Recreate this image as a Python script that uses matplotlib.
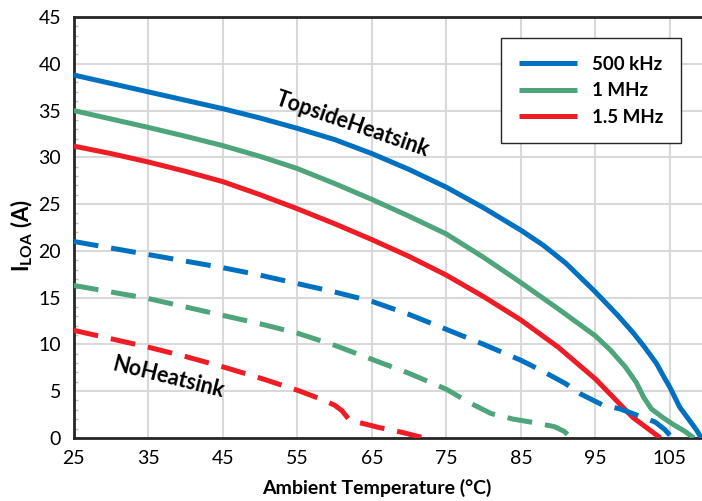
import matplotlib
matplotlib.use("Agg")
import matplotlib.pyplot as plt
import numpy as np

# --- data ---
# topside heatsink (solid)
t_500k = [25, 30, 35, 40, 45, 50, 55, 60, 65, 70, 75, 80, 85, 88, 91, 95, 98, 100, 101.5, 103.2, 104.2, 105, 106.3, 107.5, 108.6, 109.2]
i_500k = [38.8, 37.9, 37.0, 36.1, 35.2, 34.2, 33.1, 31.9, 30.4, 28.7, 26.8, 24.6, 22.2, 20.6, 18.7, 15.6, 13.1, 11.3, 9.8, 7.95, 6.5, 5.4, 3.3, 2.0, 0.8, 0.0]

t_1m = [25, 30, 35, 40, 45, 50, 55, 60, 65, 70, 75, 80, 85, 90, 95, 97, 99, 100.5, 101.5, 102.5, 104, 105.5, 107, 108.2]
i_1m = [35.0, 34.1, 33.2, 32.25, 31.25, 30.1, 28.8, 27.2, 25.5, 23.7, 21.8, 19.3, 16.6, 13.8, 10.9, 9.4, 7.6, 5.9, 4.3, 3.1, 2.2, 1.4, 0.7, 0.0]

t_15m = [25, 30, 35, 40, 45, 50, 55, 60, 65, 70, 75, 80, 85, 90, 95, 100, 103.7]
i_15m = [31.2, 30.4, 29.5, 28.5, 27.4, 26.0, 24.5, 22.9, 21.2, 19.4, 17.4, 15.1, 12.6, 9.7, 6.3, 2.2, 0.0]

# no heatsink (dashed)
t_500k_nh = [25, 30, 35, 40, 45, 50, 55, 60, 65, 70, 75, 80, 85, 88, 91, 93, 96, 98.3, 101, 103, 104.3, 105.3]
i_500k_nh = [21.0, 20.3, 19.6, 18.9, 18.2, 17.4, 16.5, 15.6, 14.6, 13.2, 11.6, 10.0, 8.3, 7.1, 5.8, 4.7, 3.5, 3.1, 2.3, 1.7, 0.9, 0.0]

t_1m_nh = [25, 30, 35, 40, 45, 50, 55, 60, 65, 70, 75, 78, 81, 84, 87, 89.5, 90.8, 91.8]
i_1m_nh = [16.3, 15.6, 14.9, 14.0, 13.1, 12.2, 11.2, 9.9, 8.4, 6.9, 5.2, 3.8, 2.6, 2.0, 1.6, 1.2, 0.7, 0.0]

t_15m_nh = [25, 30, 35, 40, 45, 50, 55, 58, 60, 61, 61.6, 62, 63.5, 66, 69, 72]
i_15m_nh = [11.5, 10.6, 9.7, 8.7, 7.6, 6.4, 5.1, 4.2, 3.5, 2.9, 2.3, 1.9, 1.6, 1.1, 0.6, 0.0]

labels = ['500 kHz', '1 MHz', '1.5 MHz']
colors = ['#0070c0', '#4ea47b', '#ee1c25']

xticks = [25, 35, 45, 55, 65, 75, 85, 95, 105]
yticks = [0, 5, 10, 15, 20, 25, 30, 35, 40, 45]

plt.rcParams['font.family'] = ['Lato', 'DejaVu Sans']
plt.rcParams['mathtext.fontset'] = 'custom'
plt.rcParams['mathtext.rm'] = 'Lato'
plt.rcParams['mathtext.bf'] = 'Lato:bold'

fig = plt.figure(figsize=(7.02, 5.01), dpi=100)
ax = fig.add_axes([0.105, 0.126, 0.895, 0.84])

lw = 3.6
solid = [(t_500k, i_500k), (t_1m, i_1m), (t_15m, i_15m)]
dashed = [(t_500k_nh, i_500k_nh), (t_1m_nh, i_1m_nh), (t_15m_nh, i_15m_nh)]
for (t, i), c, lab in zip(solid, colors, labels):
	ax.plot(t, i, '-', color=c, lw=lw, label=lab, solid_capstyle='butt', solid_joinstyle='round', zorder=3)
for (t, i), c in zip(dashed, colors):
	ax.plot(t, i, '--', color=c, lw=lw, dashes=(5, 2.6), dash_capstyle='butt', zorder=3)

ax.set_xlim(25, 109.3)
ax.set_ylim(0, 45)
ax.set_xticks(xticks)
ax.set_yticks(yticks)
ax.set_yticks(np.arange(0, 46, 1), minor=True)
ax.grid(True, which='major', color='#d9d9d9', lw=1.5, zorder=0)
ax.set_axisbelow(True)

ax.tick_params(axis='both', which='major', length=0, labelsize=14)
ax.tick_params(axis='x', pad=9)
ax.tick_params(axis='y', pad=9)
ax.tick_params(axis='y', which='minor', direction='in', length=3, color='#bfbfbf', width=1)
ax.tick_params(axis='x', which='minor', length=0)

for s in ['left', 'bottom', 'top']:
	ax.spines[s].set_color('#262626')
	ax.spines[s].set_linewidth(2)
ax.spines['right'].set_visible(False)

ax.set_xlabel('Ambient Temperature (°C)', fontsize=14, fontweight='bold')
ax.xaxis.set_label_coords(0.482, -0.097)
ax.set_ylabel(r'$\mathbf{I_{LOA}}$ (A)', fontsize=16, fontweight='bold')
ax.yaxis.set_label_coords(-0.062, 0.482)

ax.text(62.4, 33.5, 'TopsideHeatsink', rotation=-19, fontsize=15.5, fontweight='bold',
	ha='center', va='center')
ax.text(37.75, 6.4, 'NoHeatsink', rotation=-14, fontsize=15.5, fontweight='bold',
	ha='center', va='center')

leg = ax.legend(loc='upper left', bbox_to_anchor=(0.680, 0.950), borderaxespad=0,
	prop={'weight': 'bold', 'size': 13.5}, handlelength=3.1, handletextpad=0.8,
	labelspacing=0.5, borderpad=0.95, fancybox=False, framealpha=1)
leg.get_frame().set_edgecolor('#262626')
leg.get_frame().set_linewidth(1.0)

plt.savefig('out.png', dpi=100)
